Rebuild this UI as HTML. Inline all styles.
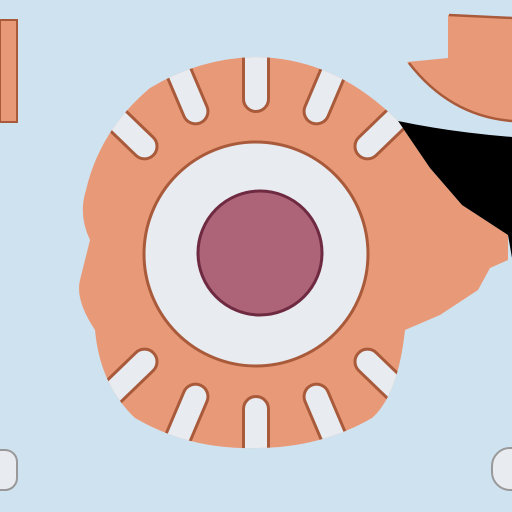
<!DOCTYPE html>
<html><head><meta charset="utf-8"><style>html,body{margin:0;padding:0;background:#cfe2f0}svg{display:block}</style></head>
<body>
<svg width="512" height="512" viewBox="0 0 512 512">
<defs>
<clipPath id="blobclip"><path id="blobpath" d="M150,88 Q200,58 256,57 Q335,58 398,121 L430,168 L462,205 L508,235 L508,260 L490,268 L478,290 L440,315 L405,330 Q398,395 372,418 Q320,448 256,448 Q190,450 135,418 Q100,385 95,330 Q75,300 80,280 L90,240 Q78,215 86,190 Q100,130 150,88 Z"/></clipPath>
</defs>
<rect width="512" height="512" fill="#cfe2f0"/>
<path d="M0,20 L17,20 L17,122 L0,122 Z" fill="#e89a78" stroke="#a85a3a" stroke-width="2"/>
<path d="M448,15 L512,18 L512,122 Q450,118 407,62 L448,58 Z" fill="#e89a78"/>
<path d="M449,15 L512,18 M409,63 Q450,116 512,121" fill="none" stroke="#a85a3a" stroke-width="2.5"/>
<rect x="-20" y="450" width="37" height="40" rx="12" fill="#e8ebf0" stroke="#999" stroke-width="2"/>
<rect x="492" y="448" width="50" height="42" rx="18" fill="#e8ebf0" stroke="#999" stroke-width="2"/>
<path d="M150,88 Q200,58 256,57 Q335,58 398,121 L430,168 L462,205 L508,235 L508,260 L490,268 L478,290 L440,315 L405,330 Q398,395 372,418 Q320,448 256,448 Q190,450 135,418 Q100,385 95,330 Q75,300 80,280 L90,240 Q78,215 86,190 Q100,130 150,88 Z" fill="#e89a78"/>
<path d="M398,121 Q450,132 512,137 L512,258 L508,235 L462,205 L430,168 Z" fill="#000"/>
<g id="slots" clip-path="url(#blobclip)"></g>
<circle cx="256" cy="254" r="112" fill="#e8ebf0" stroke="#a85a3a" stroke-width="3"/>
<circle cx="260" cy="253" r="62" fill="#ad6478" stroke="#6e2a40" stroke-width="3"/>
</svg>
<script>
const slotAngles=[-136,-113,-90,-67,-44,44,67,90,113,136];
const g=document.getElementById('slots');
slotAngles.forEach(a=>{
  const r=document.createElementNS('http://www.w3.org/2000/svg','rect');
  r.setAttribute('x',-12.5);r.setAttribute('y',-12.5);r.setAttribute('width',120);r.setAttribute('height',25);r.setAttribute('rx',12.5);
  r.setAttribute('fill','#e8ebf0');r.setAttribute('stroke','#a85a3a');r.setAttribute('stroke-width','3');
  r.setAttribute('transform',`translate(256,254) rotate(${a}) translate(155,0)`);
  
  
  g.appendChild(r);
});
</script>
</body></html>
